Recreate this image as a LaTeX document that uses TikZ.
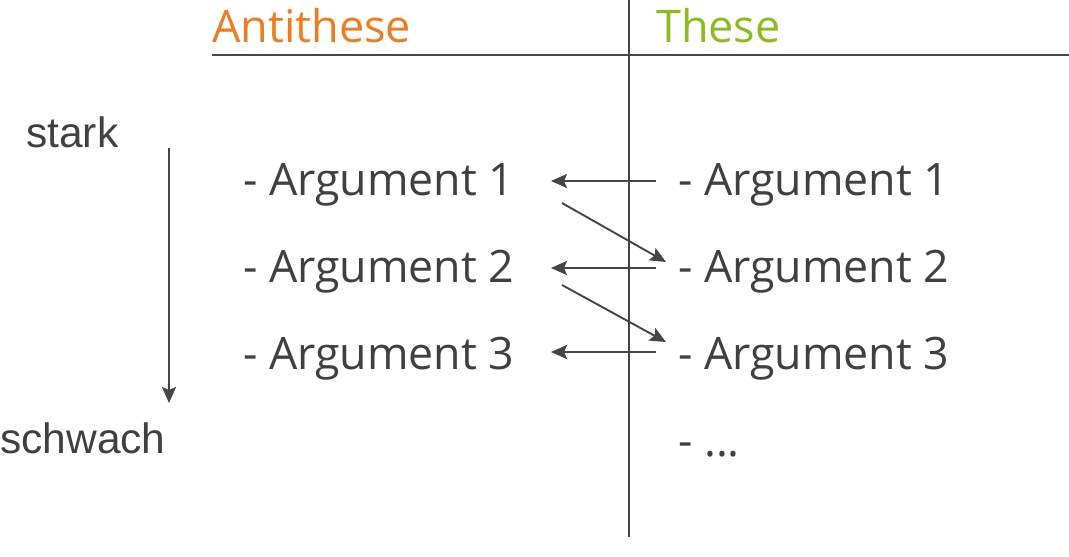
\documentclass[tikz,border=0pt]{standalone}
\usepackage{fontspec}
\setmainfont{Open Sans}
\newfontfamily\helv{Liberation Sans}
\usetikzlibrary{arrows.meta}
\definecolor{ink}{HTML}{404040}
\definecolor{lineink}{HTML}{454545}
\definecolor{orangeT}{HTML}{EE7D22}
\definecolor{greenT}{HTML}{8BBB21}
\begin{document}
\begin{tikzpicture}[x=1pt,y=-1pt,
  arg/.style={anchor=base west, inner sep=0pt, text=ink, font=\fontsize{44.7}{50}\selectfont},
  head/.style={anchor=base west, inner sep=0pt, font=\fontsize{45}{50}\selectfont},
  side/.style={anchor=base west, inner sep=0pt, text=ink, font=\helv\fontsize{42.5}{46}\selectfont},
  rule/.style={draw=lineink, line width=2.3pt},
  conn/.style={draw=lineink, line width=1.9pt, -{Stealth[length=16pt,width=14pt,inset=3pt]}}]
\useasboundingbox (0,0) rectangle (1069,557);
% headers
\node[head, text=orangeT] (anti) at (212,42) {Antithese};
\node[head, text=greenT] (these) at (656,42) {These};
\coordinate (hl) at (212,55);
\coordinate (hr) at (1069,55);
\coordinate (vt) at (629,0);
\coordinate (vb) at (629,537);
\draw[rule] (hl) -- (hr);
\draw[rule] (vt) -- (vb);
% side labels
\node[side] (stark) at (26,147) {stark};
\node[side] (schwach) at (0,453) {schwach};
\coordinate (ds) at (169,148);
\coordinate (de) at (169,403);
\draw[conn] (ds) -- (de);
% arguments
\node[arg] (l1) at (243,195) {- Argument 1};
\node[arg] (l2) at (243,282) {- Argument 2};
\node[arg] (l3) at (243,369) {- Argument 3};
\node[arg] (r1) at (678,195) {- Argument 1};
\node[arg] (r2) at (678,282) {- Argument 2};
\node[arg] (r3) at (678,369) {- Argument 3};
\node[arg] (r4) at (678,456) {- ...};
% arrows
\coordinate (a1s) at (656,181); \coordinate (a1e) at (551,181);
\coordinate (a2s) at (656,268); \coordinate (a2e) at (551,268);
\coordinate (a3s) at (656,352); \coordinate (a3e) at (551,352);
\coordinate (d1s) at (562,203); \coordinate (d1e) at (666,262);
\coordinate (d2s) at (562,285); \coordinate (d2e) at (666,342);
\draw[conn] (a1s) -- (a1e);
\draw[conn] (a2s) -- (a2e);
\draw[conn] (a3s) -- (a3e);
\draw[conn] (d1s) -- (d1e);
\draw[conn] (d2s) -- (d2e);
\end{tikzpicture}
\end{document}
